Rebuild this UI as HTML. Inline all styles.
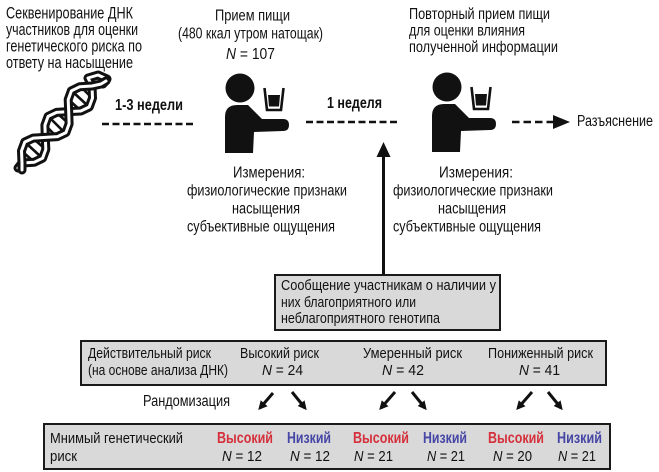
<!DOCTYPE html>
<html><head><meta charset="utf-8">
<style>
html,body{margin:0;padding:0;background:#fff;}
svg{display:block;}
text{font-family:"Liberation Sans Narrow","Liberation Sans","DejaVu Sans",sans-serif;fill:#111;}
</style></head>
<body>
<svg width="659" height="472" viewBox="0 0 659 472" xmlns="http://www.w3.org/2000/svg">
<defs>
<marker id="ah" viewBox="0 0 10 10" refX="7" refY="5" markerWidth="9" markerHeight="9" markerUnits="userSpaceOnUse" orient="auto">
<path d="M0,0 L10,5 L0,10 z" fill="#111"/>
</marker>
<g id="person">
<circle cx="240" cy="88" r="14.5" fill="#111"/>
<path d="M225,153 L225,117 Q225,105 237,105 L248,105 L262,119 L283,119 Q289,119 289,125 Q289,131 283,131 L254,132 L253,153 Z" fill="#111"/>
<path d="M264.5,88 L267,110 L281,110 L283.5,88" fill="none" stroke="#111" stroke-width="2.6"/>
<path d="M268,95 L280,95 L279,106.5 L269,106.5 Z" fill="#111"/>
</g>
</defs>

<!-- DNA -->
<g stroke-linecap="round" stroke-linejoin="round" fill="none">
<g stroke="#111" stroke-width="2.6">
<line x1="32" y1="160" x2="24" y2="153"/>
<line x1="40" y1="156" x2="27" y2="144"/>
<line x1="44" y1="148" x2="35" y2="140"/>
<line x1="47" y1="127" x2="55" y2="135"/>
<line x1="50" y1="118" x2="63" y2="131"/>
<line x1="58" y1="114" x2="67" y2="122"/>
<line x1="79" y1="109" x2="70" y2="101"/>
<line x1="87" y1="105" x2="73" y2="92"/>
<line x1="91" y1="97" x2="82" y2="88"/>
</g>
<path d="M18,168 L22,163 L34.1,162.3 L42.6,158.2 L45.8,149.5 L45.3,137.4 L44.9,125.2 L48.1,116.4 L56.5,112.4 L68.7,111.6 L80.8,111 L89.2,107 L92.5,98.1 L92,86 L88,78 L98,75 L107,79 L103,84" stroke="#111" stroke-width="9"/>
<path d="M18,168 L22,163 L34.1,162.3 L42.6,158.2 L45.8,149.5 L45.3,137.4 L44.9,125.2 L48.1,116.4 L56.5,112.4 L68.7,111.6 L80.8,111 L89.2,107 L92.5,98.1 L92,86 L88,78 L98,75 L107,79 L103,84" stroke="#fff" stroke-width="3"/>
<path d="M22,170 L22,163 L21.5,150.9 L24.8,142 L33.2,138.1 L45.3,137.4 L57.5,136.6 L65.9,132.6 L69.1,123.8 L68.7,111.6 L68.2,99.6 L71.4,90.8 L79.9,86.7 L92,86 L101,84 L106,81" stroke="#111" stroke-width="9"/>
<path d="M22,170 L22,163 L21.5,150.9 L24.8,142 L33.2,138.1 L45.3,137.4 L57.5,136.6 L65.9,132.6 L69.1,123.8 L68.7,111.6 L68.2,99.6 L71.4,90.8 L79.9,86.7 L92,86 L101,84 L106,81" stroke="#fff" stroke-width="3"/>
</g>

<!-- people -->
<use href="#person"/>
<use href="#person" transform="translate(207,-1)"/>

<!-- dashed connectors -->
<line x1="102" y1="124" x2="193" y2="124" stroke="#111" stroke-width="2.6" stroke-dasharray="7 3.5"/>
<line x1="306" y1="122" x2="400" y2="122" stroke="#111" stroke-width="2.6" stroke-dasharray="7 3.5"/>
<line x1="512" y1="122" x2="553" y2="122" stroke="#111" stroke-width="2.6" stroke-dasharray="7.5 4"/>
<polygon points="553,115 570,122 553,129" fill="#111"/>

<!-- vertical arrow -->
<line x1="383.5" y1="155" x2="383.5" y2="275" stroke="#111" stroke-width="3"/>
<polygon points="376.5,157 383.5,142 390.5,157" fill="#111"/>

<!-- boxes -->
<rect x="275" y="275" width="225" height="55" fill="#d9d9d9" stroke="#1a1a1a" stroke-width="2"/>
<rect x="81" y="341" width="525" height="44" fill="#d9d9d9" stroke="#1a1a1a" stroke-width="2"/>
<rect x="44" y="424" width="566" height="45" fill="#d9d9d9" stroke="#1a1a1a" stroke-width="2"/>

<!-- diagonal arrows -->
<g stroke="#111" stroke-width="3" marker-end="url(#ah)">
<line x1="273" y1="393" x2="260" y2="408"/>
<line x1="292" y1="392" x2="305" y2="408"/>
<line x1="395" y1="392" x2="381" y2="408"/>
<line x1="412" y1="392" x2="425" y2="408"/>
<line x1="532" y1="392" x2="518" y2="408"/>
<line x1="548" y1="392" x2="561" y2="408"/>
</g>

<!-- top-left text -->
<g font-size="16.5">
<text x="6" y="18.5" textLength="127" lengthAdjust="spacingAndGlyphs">Секвенирование ДНК</text>
<text x="6" y="35" textLength="132" lengthAdjust="spacingAndGlyphs">участников для оценки</text>
<text x="6" y="51.5" textLength="136" lengthAdjust="spacingAndGlyphs">генетического риска по</text>
<text x="6" y="68" textLength="127" lengthAdjust="spacingAndGlyphs">ответу на насыщение</text>
</g>

<!-- middle top text -->
<g font-size="15.5">
<text x="215" y="20.5" textLength="75" lengthAdjust="spacingAndGlyphs">Прием пищи</text>
<text x="178" y="38.5" textLength="145" lengthAdjust="spacingAndGlyphs">(480 ккал утром натощак)</text>
<text x="226" y="59" textLength="49" lengthAdjust="spacingAndGlyphs"><tspan font-style="italic">N</tspan> = 107</text>
</g>

<!-- right top text -->
<g font-size="15.5">
<text x="409" y="19" textLength="141" lengthAdjust="spacingAndGlyphs">Повторный прием пищи</text>
<text x="409" y="35.5" textLength="116" lengthAdjust="spacingAndGlyphs">для оценки влияния</text>
<text x="409" y="52" textLength="149" lengthAdjust="spacingAndGlyphs">полученной информации</text>
</g>

<!-- bold interval labels -->
<g font-size="15.5" font-weight="bold">
<text x="115" y="110" textLength="68" lengthAdjust="spacingAndGlyphs">1-3 недели</text>
<text x="327" y="108" textLength="55" lengthAdjust="spacingAndGlyphs">1 неделя</text>
</g>

<text x="577" y="126" font-size="15.5" textLength="76" lengthAdjust="spacingAndGlyphs">Разъяснение</text>

<!-- measurements block 1 -->
<g font-size="15.5">
<text x="233" y="177.5" textLength="72" lengthAdjust="spacingAndGlyphs">Измерения:</text>
<text x="187" y="195.5" textLength="160" lengthAdjust="spacingAndGlyphs">физиологические признаки</text>
<text x="232" y="213.5" textLength="68" lengthAdjust="spacingAndGlyphs">насыщения</text>
<text x="187" y="231.5" textLength="148" lengthAdjust="spacingAndGlyphs">субъективные ощущения</text>
</g>
<!-- measurements block 2 -->
<g font-size="15.5">
<text x="439" y="177.5" textLength="74" lengthAdjust="spacingAndGlyphs">Измерения:</text>
<text x="393" y="195.5" textLength="160" lengthAdjust="spacingAndGlyphs">физиологические признаки</text>
<text x="438" y="213.5" textLength="68" lengthAdjust="spacingAndGlyphs">насыщения</text>
<text x="393" y="231.5" textLength="148" lengthAdjust="spacingAndGlyphs">субъективные ощущения</text>
</g>

<!-- message box text -->
<g font-size="15">
<text x="281" y="290" textLength="215" lengthAdjust="spacingAndGlyphs">Сообщение участникам о наличии у</text>
<text x="281" y="307" textLength="135" lengthAdjust="spacingAndGlyphs">них благоприятного или</text>
<text x="281" y="323" textLength="159" lengthAdjust="spacingAndGlyphs">неблагоприятного генотипа</text>
</g>

<!-- actual risk box text -->
<g font-size="15">
<text x="88" y="358" textLength="123" lengthAdjust="spacingAndGlyphs">Действительный риск</text>
<text x="88" y="375" textLength="140" lengthAdjust="spacingAndGlyphs">(на основе анализа ДНК)</text>
<text x="240" y="358" textLength="79" lengthAdjust="spacingAndGlyphs">Высокий риск</text>
<text x="262" y="375" textLength="41" lengthAdjust="spacingAndGlyphs"><tspan font-style="italic">N</tspan> = 24</text>
<text x="363" y="358" textLength="99" lengthAdjust="spacingAndGlyphs">Умеренный риск</text>
<text x="382" y="375" textLength="42" lengthAdjust="spacingAndGlyphs"><tspan font-style="italic">N</tspan> = 42</text>
<text x="488" y="358" textLength="105" lengthAdjust="spacingAndGlyphs">Пониженный риск</text>
<text x="519" y="375" textLength="41" lengthAdjust="spacingAndGlyphs"><tspan font-style="italic">N</tspan> = 41</text>
</g>

<text x="143" y="406" font-size="15.5" textLength="87" lengthAdjust="spacingAndGlyphs">Рандомизация</text>

<!-- imaginary risk box text -->
<g font-size="15">
<text x="50" y="443" textLength="133" lengthAdjust="spacingAndGlyphs">Мнимый генетический</text>
<text x="50" y="461" textLength="27" lengthAdjust="spacingAndGlyphs">риск</text>
</g>
<g font-size="15.5" font-weight="bold">
<text x="217" y="443" textLength="56" lengthAdjust="spacingAndGlyphs" style="fill:#d5303b">Высокий</text>
<text x="287" y="443" textLength="44" lengthAdjust="spacingAndGlyphs" style="fill:#4646a6">Низкий</text>
<text x="353" y="443" textLength="56" lengthAdjust="spacingAndGlyphs" style="fill:#d5303b">Высокий</text>
<text x="423" y="443" textLength="44" lengthAdjust="spacingAndGlyphs" style="fill:#4646a6">Низкий</text>
<text x="488" y="443" textLength="56" lengthAdjust="spacingAndGlyphs" style="fill:#d5303b">Высокий</text>
<text x="557" y="443" textLength="45" lengthAdjust="spacingAndGlyphs" style="fill:#4646a6">Низкий</text>
</g>
<g font-size="15">
<text x="222" y="461" textLength="40" lengthAdjust="spacingAndGlyphs"><tspan font-style="italic">N</tspan> = 12</text>
<text x="290" y="461" textLength="40" lengthAdjust="spacingAndGlyphs"><tspan font-style="italic">N</tspan> = 12</text>
<text x="354" y="461" textLength="39" lengthAdjust="spacingAndGlyphs"><tspan font-style="italic">N</tspan> = 21</text>
<text x="427" y="461" textLength="38" lengthAdjust="spacingAndGlyphs"><tspan font-style="italic">N</tspan> = 21</text>
<text x="493" y="461" textLength="39" lengthAdjust="spacingAndGlyphs"><tspan font-style="italic">N</tspan> = 20</text>
<text x="558" y="461" textLength="38" lengthAdjust="spacingAndGlyphs"><tspan font-style="italic">N</tspan> = 21</text>
</g>
</svg>
</body></html>
